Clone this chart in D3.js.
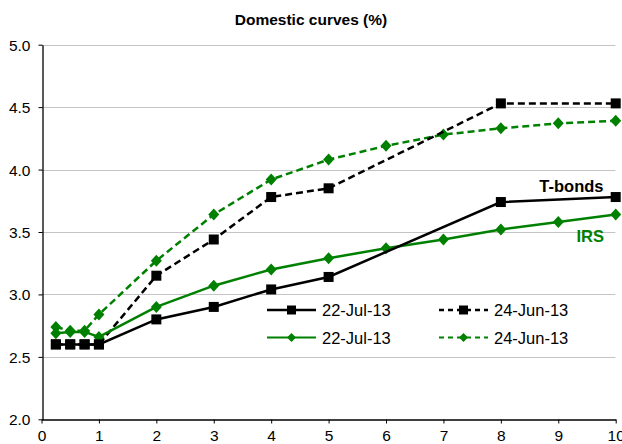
<!DOCTYPE html>
<html><head><meta charset="utf-8">
<script src="https://cdn.jsdelivr.net/npm/d3@7"></script>
<style>body{margin:0;background:#fff}svg{display:block}text{font-family:"Liberation Sans",Arial,sans-serif}</style>
</head><body><svg id="c" width="622" height="444"></svg>
<script>
const tenorsBonds = [0.25, 0.5, 0.75, 1, 2, 3, 4, 5, 8, 10];
const bondsJul = [2.60, 2.60, 2.60, 2.60, 2.80, 2.90, 3.04, 3.14, 3.74, 3.78];
const bondsJun = [2.60, 2.60, 2.60, 2.60, 3.15, 3.44, 3.78, 3.85, 4.53, 4.53];
const tenorsIRS = [0.25, 0.5, 0.75, 1, 2, 3, 4, 5, 6, 7, 8, 9, 10];
const irsJul = [2.69, 2.70, 2.70, 2.66, 2.90, 3.07, 3.20, 3.29, 3.37, 3.44, 3.52, 3.58, 3.64];
const irsJun = [2.74, 2.71, 2.71, 2.84, 3.27, 3.64, 3.92, 4.08, 4.19, 4.28, 4.33, 4.37, 4.39];
const xTicks = [0,1,2,3,4,5,6,7,8,9,10];
const yTicks = [2.0,2.5,3.0,3.5,4.0,4.5,5.0];
const legendLabels = ["22-Jul-13","24-Jun-13","22-Jul-13","24-Jun-13"];

const green = "#008000";
const svg = d3.select("#c");
const x = d3.scaleLinear().domain([0,10]).range([41.5,615.7]);
const y = d3.scaleLinear().domain([2,5]).range([419.3,44.7]);

svg.append("text").attr("x",311).attr("y",25).attr("text-anchor","middle")
  .attr("font-size",15.5).attr("font-weight","bold").text("Domestic curves (%)");

// gridlines
svg.append("g").selectAll("line").data(yTicks.filter(d=>d>2)).join("line")
  .attr("x1",x(0)).attr("x2",x(10)).attr("y1",d=>Math.round(y(d))+0.5).attr("y2",d=>Math.round(y(d))+0.5)
  .attr("stroke","#888").attr("stroke-width",1).attr("stroke-dasharray","1,1");

// axes
const ya = svg.append("g").attr("transform",`translate(${Math.round(x(0))+0.5},0)`)
  .call(d3.axisLeft(y).tickValues(yTicks).tickFormat(d3.format(".1f")).tickSize(4).tickSizeOuter(0));
const xa = svg.append("g").attr("transform",`translate(0,${Math.round(y(2))+0.5})`)
  .call(d3.axisBottom(x).tickValues(xTicks).tickFormat(d3.format("d")).tickSize(4).tickSizeOuter(0));
[ya,xa].forEach(a=>{
  a.selectAll("text").attr("font-size",15.5).attr("fill","#000").attr("font-family","Liberation Sans, Arial, sans-serif");
  a.select(".domain").attr("stroke","#000").attr("stroke-width",1.3);
  a.selectAll(".tick line").attr("stroke","#000");
});
ya.selectAll("text").attr("x",-12).attr("dy","0.35em");
xa.selectAll("text").attr("y",21.5).attr("dy",null);

const line = d3.line().x(d=>x(d[0])).y(d=>y(d[1]));
const series = [
  {t:tenorsIRS, v:irsJun, color:green, dash:"7,4", marker:"diamond"},
  {t:tenorsBonds, v:bondsJun, color:"#000", dash:"7,4", marker:"square"},
  {t:tenorsIRS, v:irsJul, color:green, dash:null, marker:"diamond"},
  {t:tenorsBonds, v:bondsJul, color:"#000", dash:null, marker:"square"},
];
function drawMarker(g, cx, cy, s){
  if(s.marker==="square"){
    g.append("rect").attr("x",cx-5).attr("y",cy-5).attr("width",10).attr("height",10).attr("fill",s.color);
  } else {
    g.append("path").attr("d",`M${cx},${cy-6}L${cx+5.5},${cy}L${cx},${cy+6}L${cx-5.5},${cy}Z`).attr("fill",s.color);
  }
}
series.forEach(s=>{
  const pts = s.t.map((t,i)=>[t,s.v[i]]);
  svg.append("path").datum(pts).attr("d",line).attr("fill","none").attr("stroke",s.color)
    .attr("stroke-width",2.5).attr("stroke-dasharray",s.dash);
  const g = svg.append("g");
  pts.forEach(p=>drawMarker(g, x(p[0]), y(p[1]), s));
});

// legend
const leg = [
  {s:series[3], lx:267, ly:310, label:legendLabels[0]},
  {s:series[1], lx:439, ly:310, label:legendLabels[1]},
  {s:series[2], lx:267, ly:337.5, label:legendLabels[2]},
  {s:series[0], lx:439, ly:337.5, label:legendLabels[3]},
];
leg.forEach(l=>{
  const g = svg.append("g");
  g.append("line").attr("x1",l.lx).attr("x2",l.lx+49).attr("y1",l.ly).attr("y2",l.ly)
    .attr("stroke",l.s.color).attr("stroke-width",l.s.marker==="square"?2.5:2).attr("stroke-dasharray",l.s.dash?"5,4":null);
  if(l.s.marker==="square"){
    g.append("rect").attr("x",l.lx+24.5-4.5).attr("y",l.ly-4.5).attr("width",9).attr("height",9).attr("fill",l.s.color);
  } else {
    g.append("path").attr("d",`M${l.lx+24.5},${l.ly-4.5}L${l.lx+29},${l.ly}L${l.lx+24.5},${l.ly+4.5}L${l.lx+20},${l.ly}Z`).attr("fill",l.s.color);
  }
  g.append("text").attr("x",l.lx+55).attr("y",l.ly+6).attr("font-size",16.5).text(l.label);
});

svg.append("text").attr("x",603.5).attr("y",192).attr("text-anchor","end").attr("font-size",16.5)
  .attr("font-weight","bold").text("T-bonds");
svg.append("text").attr("x",604).attr("y",241.5).attr("text-anchor","end").attr("font-size",16.5)
  .attr("font-weight","bold").attr("fill",green).text("IRS");
</script></body></html>
